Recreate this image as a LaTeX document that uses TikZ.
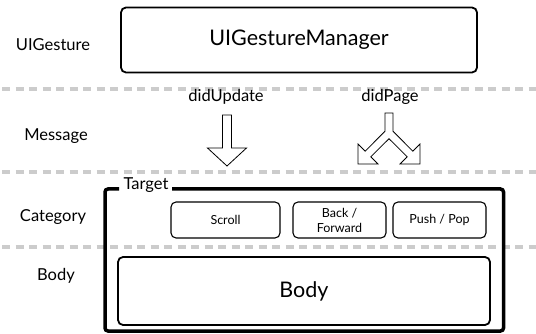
\documentclass[tikz,border=0pt]{standalone}
\usepackage{fontspec}
\setmainfont{Lato}

\begin{document}
\begin{tikzpicture}[x=1pt, y=-1pt,
  rotulo/.style={font=\fontsize{16.5}{20}\selectfont},
  sep/.style={draw=gray!40, line width=4pt, dash pattern=on 8pt off 5.5pt},
  caixa/.style={draw, line width=1.8pt, rounded corners=5pt, fill=white, inner sep=0pt},
  caixinha/.style={draw, line width=1.1pt, rounded corners=5pt, fill=white,
    align=center, inner sep=0pt, font=\fontsize{12.5}{15}\selectfont},
  seta/.style={draw, line width=0.8pt, fill=white, line join=miter}]

\useasboundingbox (0,0) rectangle (536,334);

% separadores
\draw[sep] (2,89) -- (536,89);
\draw[sep] (2,172.5) -- (536,172.5);
\draw[sep] (2,247) -- (536,247);

% camadas
\node[rotulo] (lblGesture) at (53,45) {UIGesture};
\node[rotulo] (lblMessage) at (56,136) {Message};
\node[rotulo] (lblCategory) at (53,217) {Category};
\node[rotulo] (lblBody) at (56,276) {Body};

% gerenciador
\node[caixa, minimum width=356pt, minimum height=65pt,
  font=\fontsize{21.5}{24}\selectfont] (manager) at (299,40) {UIGestureManager};

% mensagens
\node[rotulo] (didUpdate) at (226,97) {didUpdate};
\node[rotulo] (didPage) at (390,97) {didPage};

\draw[seta] (222.5,115) -- (222.5,148) -- (207.5,148) -- (227,166)
  -- (246.5,148) -- (231.5,148) -- (231.5,115) -- cycle;

\draw[seta] (393,113) -- (393,131.2) -- (412.8,151.2) -- (420,144) -- (420,164)
  -- (400,164) -- (407.2,156.8) -- (389,138.7) -- (370.8,156.8) -- (378,164)
  -- (358,164) -- (358,144) -- (365.2,151.2) -- (385,131.2) -- (385,113) -- cycle;

% alvo
\draw[line width=3.5pt, rounded corners=3pt] (119,189) -- (105,189) -- (105,331)
  -- (503.5,331) -- (503.5,189) -- (172,189);
\node[rotulo, fill=white, inner xsep=1.5pt, inner ysep=1pt] (target) at (146,185) {Target};

\node[caixinha, minimum width=109pt, minimum height=36pt] (scroll) at (225.5,220) {Scroll};
\node[caixinha, minimum width=93pt, minimum height=36pt] (backfwd) at (339.5,220) {Back /\\Forward};
\node[caixinha, minimum width=93pt, minimum height=36pt] (pushpop) at (439.5,220) {Push / Pop};

% corpo
\node[caixa, minimum width=372pt, minimum height=68pt,
  font=\fontsize{21.5}{24}\selectfont] (body) at (304,291) {Body};

\end{tikzpicture}
\end{document}
